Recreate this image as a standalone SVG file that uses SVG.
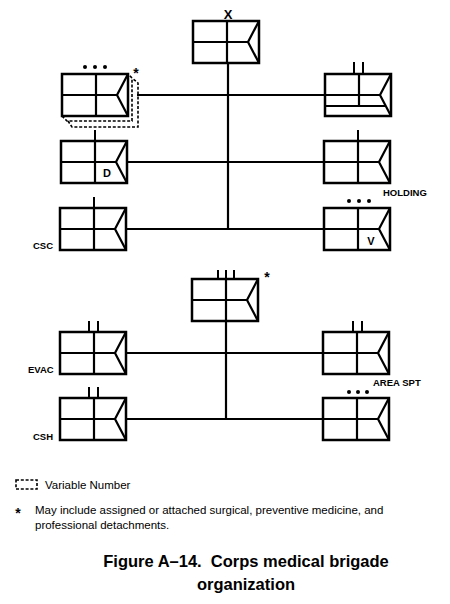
<svg xmlns="http://www.w3.org/2000/svg" width="450" height="604" viewBox="0 0 450 604">
<style>
.bx{fill:#fff;stroke:#000;stroke-width:2.5;stroke-linejoin:miter}
.ln{fill:none;stroke:#000;stroke-width:2.2}
.cn{fill:none;stroke:#000;stroke-width:2.2}
.ech{fill:none;stroke:#000;stroke-width:2}
.dash{fill:none;stroke:#000;stroke-width:1.6;stroke-dasharray:3,1.8}
.lbl{font-family:"Liberation Sans",Arial,sans-serif;font-weight:bold;font-size:9.5px;fill:#000}
.big{font-size:13px}
.mid{font-size:11px}
.star{font-family:"Liberation Sans",Arial,sans-serif;font-weight:bold;font-size:14px;fill:#000}
.txt{font-family:"Liberation Sans",Arial,sans-serif;font-size:11.5px;fill:#000}
.cap{font-family:"Liberation Sans",Arial,sans-serif;font-weight:bold;font-size:16.5px;fill:#000}
</style>
<defs>
<g id="unit">
<rect class="bx" x="0" y="0" width="66" height="42"/>
<path class="ln" d="M0,21 H55 M66,0 L55,21 L66,42 M34,0 V42"/>
</g>
</defs>

<g id="connectors">
<path class="cn" d="M228,62 V229"/>
<path class="cn" d="M137,95 H325"/>
<path class="cn" d="M127,162 H324"/>
<path class="cn" d="M126,229 H324"/>
<path class="cn" d="M226,321 V419"/>
<path class="cn" d="M126,353 H323"/>
<path class="cn" d="M126,419 H323"/>
</g>

<g id="hq">
<use href="#unit" x="193" y="21"/>
<text class="lbl big" x="228" y="19" text-anchor="middle">X</text>
</g>

<g id="unit-l1">
<path class="dash" d="M62,116 L67,121 H132 V78 L128,74"/>
<path class="dash" d="M68,121 L72,127 H138 V83 L132,78"/>
<use href="#unit" x="62" y="74"/>
<circle cx="85" cy="67" r="2"/><circle cx="95" cy="67" r="2"/><circle cx="105" cy="67" r="2"/>
<text class="star" x="136" y="78" text-anchor="middle">*</text>
</g>

<g id="unit-r1">
<rect class="bx" x="325" y="74" width="66" height="42"/>
<path class="ln" d="M325,95 H380 M391,74 L380,95 L391,116 M359,74 V106 M325,106 H386"/>
<path class="ech" d="M354,62 V74 M363,62 V74"/>
</g>

<g id="unit-l2">
<use href="#unit" x="61" y="141"/>
<path class="ech" d="M95,130 V141"/>
<text class="lbl mid" x="107" y="177" text-anchor="middle">D</text>
</g>

<g id="unit-r2">
<use href="#unit" x="324" y="141"/>
<path class="ech" d="M358,130 V141"/>
<text class="lbl" x="383" y="196">HOLDING</text>
</g>

<g id="unit-l3">
<use href="#unit" x="60" y="208"/>
<path class="ech" d="M94,197 V208"/>
<text class="lbl" x="33" y="249">CSC</text>
</g>

<g id="unit-r3">
<use href="#unit" x="324" y="208"/>
<circle cx="349" cy="201" r="2"/><circle cx="359" cy="201" r="2"/><circle cx="369" cy="201" r="2"/>
<text class="lbl mid" x="371" y="245" text-anchor="middle">V</text>
</g>

<g id="group-hq">
<use href="#unit" x="192" y="279"/>
<path class="ech" d="M218,270 V279 M226,270 V279 M234,270 V279"/>
<text class="star" x="267" y="282" text-anchor="middle">*</text>
</g>

<g id="unit-l4">
<use href="#unit" x="60" y="332"/>
<path class="ech" d="M89,321 V332 M98,321 V332"/>
<text class="lbl" x="28" y="373">EVAC</text>
</g>

<g id="unit-r4">
<use href="#unit" x="323" y="332"/>
<path class="ech" d="M353,321 V332 M362,321 V332"/>
<text class="lbl" x="373" y="386">AREA SPT</text>
</g>

<g id="unit-l5">
<use href="#unit" x="60" y="398"/>
<path class="ech" d="M89,387 V398 M98,387 V398"/>
<text class="lbl" x="33" y="440">CSH</text>
</g>

<g id="unit-r5">
<use href="#unit" x="323" y="398"/>
<circle cx="349" cy="392" r="2"/><circle cx="358" cy="392" r="2"/><circle cx="367" cy="392" r="2"/>
</g>

<g id="legend">
<rect class="dash" x="16" y="480" width="21" height="9"/>
<text class="txt" x="45" y="489">Variable Number</text>
<text class="star" x="18" y="518" text-anchor="middle">*</text>
<text class="txt" x="35" y="514">May include assigned or attached surgical, preventive medicine, and</text>
<text class="txt" x="35" y="529">professional detachments.</text>
</g>

<g id="caption">
<text class="cap" x="246" y="567" text-anchor="middle">Figure A–14.&#160; Corps medical brigade</text>
<text class="cap" x="246" y="590" text-anchor="middle">organization</text>
</g>
</svg>
